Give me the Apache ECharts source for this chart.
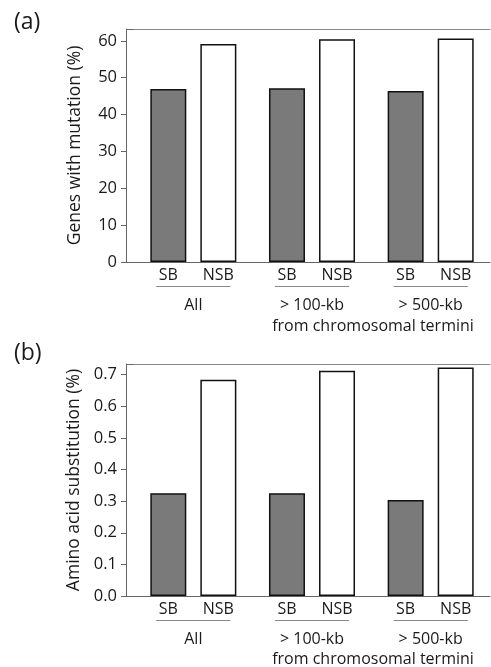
<!DOCTYPE html>
<html>
<head>
<meta charset="utf-8">
<script src="https://cdn.jsdelivr.net/npm/echarts@6/dist/echarts.min.js"></script>
<style>
  html, body { margin: 0; padding: 0; background: #fff; }
  #chart { width: 491px; height: 667px; }
</style>
</head>
<body>
<div id="chart"></div>
<script>
// groups along the x axis and the two bar types
const categories = ['All', '> 100-kb', '> 500-kb']
const barNames = ['SB', 'NSB']

// (a) genes with mutation (%)
const mutationSB = [46.9, 47.1, 46.4]
const mutationNSB = [59.1, 60.4, 60.6]
const mutationTicks = [0, 10, 20, 30, 40, 50, 60]

// (b) amino acid substitution (%)
const substitutionSB = [0.325, 0.325, 0.304]
const substitutionNSB = [0.684, 0.713, 0.723]
const substitutionTicks = [0, 0.1, 0.2, 0.3, 0.4, 0.5, 0.6, 0.7]

const FONT = 'Open Sans'
const TEXT = '#1a1a1a'
const AXIS = '#666'

const chart = echarts.init(document.getElementById('chart'))

const grids = [
  { left: 134, top: 29, width: 356, height: 233 },
  { left: 134, top: 364, width: 356, height: 232 }
]

function bottomAxis(gridIndex) {
  return {
    type: 'category',
    gridIndex: gridIndex,
    data: categories,
    axisTick: { show: false },
    axisLine: { lineStyle: { color: AXIS, width: 1 } },
    axisLabel: {
      margin: 24,
      formatter: function (v) { return '{l| }\n{n|' + v + '}' },
      rich: {
        l: { width: 74, height: 1, lineHeight: 1, fontSize: 1, backgroundColor: '#888' },
        n: { fontSize: 16, lineHeight: 36, color: TEXT, fontFamily: FONT }
      }
    }
  }
}

function topAxis(gridIndex) {
  return {
    type: 'category',
    gridIndex: gridIndex,
    position: 'top',
    data: categories,
    axisTick: { show: false },
    axisLabel: { show: false },
    axisLine: { lineStyle: { color: '#888', width: 1 } }
  }
}

function valueAxis(gridIndex, name, max, ticks, digits) {
  return {
    type: 'value',
    gridIndex: gridIndex,
    min: 0,
    max: max,
    offset: 8,
    name: name,
    nameLocation: 'middle',
    nameGap: 42,
    nameTextStyle: { fontSize: 17.5, color: TEXT, fontFamily: FONT },
    splitLine: { show: false },
    axisLine: { show: true, lineStyle: { color: AXIS, width: 1 } },
    axisTick: { show: true, length: 5, customValues: ticks, lineStyle: { color: AXIS } },
    axisLabel: {
      customValues: ticks,
      margin: 9,
      fontSize: 16.5,
      color: TEXT,
      fontFamily: FONT,
      formatter: function (v) { return v.toFixed(digits) }
    }
  }
}

function barSeries(name, idx, data, color) {
  return {
    name: name,
    type: 'bar',
    xAxisIndex: idx * 2,
    yAxisIndex: idx,
    data: data,
    barWidth: 36,
    barGap: '39%',
    itemStyle: { color: color, borderColor: '#111', borderWidth: 1.5 },
    label: {
      show: true,
      position: 'bottom',
      distance: 5,
      formatter: '{a}',
      fontSize: 16,
      color: TEXT,
      fontFamily: FONT
    }
  }
}

function stub(y) {
  return { type: 'line', shape: { x1: 126, y1: y, x2: 134, y2: y }, style: { stroke: AXIS, lineWidth: 1 } }
}

function note(text, x, y, size, align) {
  return {
    type: 'text', x: x, y: y,
    style: { text: text, fontSize: size, fontFamily: FONT, fill: TEXT, textAlign: align, textVerticalAlign: 'middle' }
  }
}

const option = {
  animation: false,
  textStyle: { fontFamily: FONT },
  grid: grids,
  xAxis: [bottomAxis(0), topAxis(0), bottomAxis(1), topAxis(1)],
  yAxis: [
    valueAxis(0, 'Genes with mutation (%)', 63.2, mutationTicks, 0),
    valueAxis(1, 'Amino acid substitution (%)', 0.734, substitutionTicks, 1)
  ],
  series: [
    barSeries(barNames[0], 0, mutationSB, '#7a7a7a'),
    barSeries(barNames[1], 0, mutationNSB, '#fff'),
    barSeries(barNames[0], 1, substitutionSB, '#7a7a7a'),
    barSeries(barNames[1], 1, substitutionNSB, '#fff')
  ],
  graphic: [
    stub(262.5), stub(29.5), stub(596.5), stub(364.5),
    note('(a)', 14, 22, 23, 'left'),
    note('(b)', 14, 353, 23, 'left'),
    note('from chromosomal termini', 373, 326, 16, 'center'),
    note('from chromosomal termini', 373, 659, 16, 'center')
  ]
}

chart.setOption(option)
</script>
</body>
</html>
